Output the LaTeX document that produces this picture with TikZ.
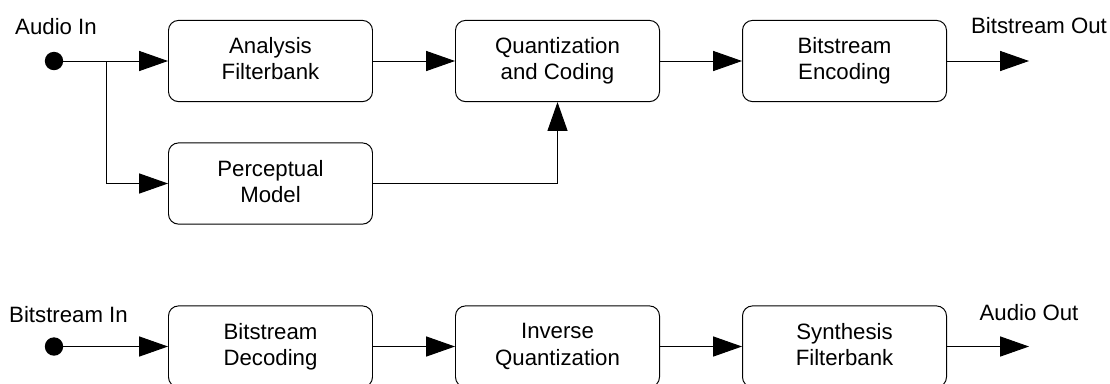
\documentclass[tikz,border=0pt]{standalone}
\usepackage{fontspec}
\setmainfont{Liberation Sans}
\usetikzlibrary{arrows.meta}
\newcommand{\blockstrut}{\rule[-0.2em]{0pt}{1.1em}}
\tikzset{
  block/.style={draw,rounded corners=0.25cm,minimum width=5.1cm,minimum height=2.03cm,align=center,line width=0.7pt,
    execute at begin node=\blockstrut,execute at end node=\blockstrut},
  sig/.style={line width=0.7pt,-{Triangle[length=0.72cm,width=0.5cm]}},
  wire/.style={line width=0.7pt},
  lbl/.style={anchor=base},
  port/.style={circle,fill,inner sep=0pt,minimum size=0.46cm}
}
\begin{document}
\begin{tikzpicture}[font=\fontsize{15.8}{18.6}\selectfont]
        \useasboundingbox (0,0) rectangle (27.75,-9.575);

        % encoder
        \node[port] (ain) at (1.35,-1.525){};
        \node[block] (afb) at (6.7625,-1.525){Analysis\\Filterbank};
        \node[block] (qc) at (13.9375,-1.525){Quantization\\and Coding};
        \node[block] (benc) at (21.1125,-1.525){Bitstream\\Encoding};
        \node[block] (pm) at (6.7625,-4.5875){Perceptual\\Model};
        \coordinate (split) at (2.65,-1.525);
        \coordinate (eout) at (25.725,-1.525);

        \draw[wire] (ain) -- (split);
        \draw[sig] (split) -- (afb);
        \draw[sig] (split) |- (pm);
        \draw[sig] (afb) -- (qc);
        \draw[sig] (pm) -| (qc);
        \draw[sig] (benc) -- (eout);
        \draw[sig] (qc) -- (benc);
        \node[lbl] (lain) at (1.4,-0.85){Audio In};
        \node[lbl] (leout) at (25.975,-0.825){Bitstream Out};

        % decoder
        \node[port] (bin) at (1.35,-8.6625){};
        \node[block] (bdec) at (6.7625,-8.6625){Bitstream\\Decoding};
        \node[block] (iq) at (13.9375,-8.6625){Inverse\\Quantization};
        \node[block] (sfb) at (21.1125,-8.6625){Synthesis\\Filterbank};
        \coordinate (dout) at (25.725,-8.6625);

        \draw[sig] (bin) -- (bdec);
        \draw[sig] (bdec) -- (iq);
        \draw[sig] (iq) -- (sfb);
        \draw[sig] (sfb) -- (dout);
        \node[lbl] (lbin) at (1.7125,-8.05){Bitstream In};
        \node[lbl] (ldout) at (25.725,-8.0){Audio Out};
    \end{tikzpicture}
\end{document}
